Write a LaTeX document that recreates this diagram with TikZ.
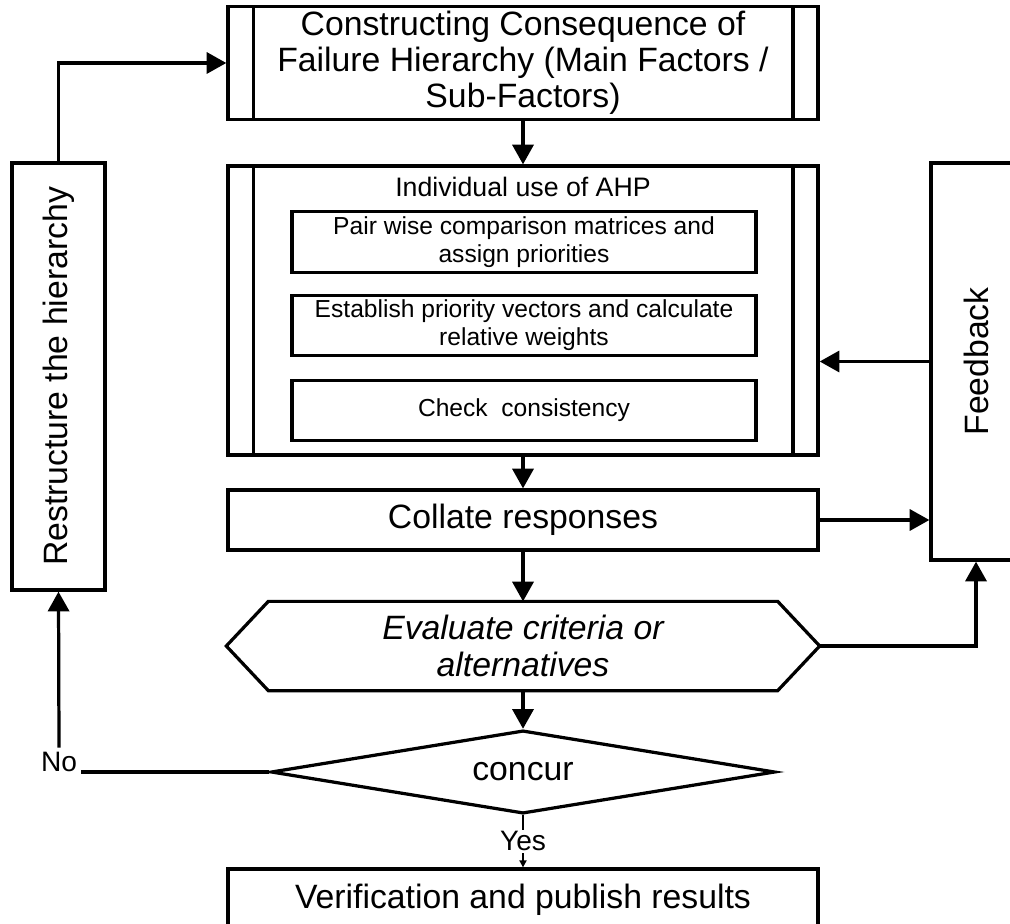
\documentclass[tikz,border=0pt]{standalone}
\usepackage{fontspec}
\setmainfont{Liberation Sans}
\usepackage{tikz}
\usetikzlibrary{shapes,decorations,arrows,calc,arrows.meta,fit,positioning}

\tikzset{
	box/.style={draw, line width=2.3pt, minimum width=14.75cm, align=center, font=\fontsize{24}{25.6}\selectfont},
	proc/.style={box, path picture={
		\draw[line width=2.3pt] ([xshift=0.63cm]path picture bounding box.north west) -- ([xshift=0.63cm]path picture bounding box.south west)
			([xshift=-0.63cm]path picture bounding box.north east) -- ([xshift=-0.63cm]path picture bounding box.south east);}},
	sub/.style={draw, line width=2.3pt, minimum width=11.6cm, minimum height=1.5cm, align=center, font=\fontsize{17.5}{20}\selectfont},
	link/.style={line width=2.3pt, -{Triangle[length=14pt,width=15pt]}},
}

\begin{document}
\begin{tikzpicture}[x=0.025cm, y=-0.025cm]
	\path[use as bounding box, clip] (0,0) rectangle (1010,924);
	\node[proc, minimum height=2.75cm] (1) at (523,63) {Constructing Consequence of\\Failure Hierarchy (Main Factors /\\Sub-Factors)};
	\node[proc, minimum height=7.225cm] (2) at (523,310.5) {};
	\node[font=\fontsize{19}{22}\selectfont] (3) at (523,187) {Individual use of AHP};
	\node[sub] (4) at (524,242) {Pair wise comparison matrices and\\assign priorities};
	\node[sub] (5) at (524,325.5) {Establish priority vectors and calculate\\relative weights};
	\node[sub] (6) at (524,410.5) {Check~ consistency};
	\node[box, minimum height=1.5cm] (7) at (523,520) {Collate responses};
	\node[box, draw=none, minimum height=2.15cm, font=\fontsize{24}{26}\selectfont\itshape] (8) at (523,646) {Evaluate criteria or\\alternatives};
	\node[box, shape=diamond, aspect=6, inner sep=0pt, minimum width=12.6cm, minimum height=2.08cm] (9) at (523,772) {concur};
	\node[box, minimum height=1.55cm] (11) at (523,900) {Verification and publish results};
	\node[box, minimum width=2.325cm, minimum height=10.675cm] (12) at (58.5,376.5) {\rotatebox{90}{Restructure the hierarchy}};
	\node[box, minimum width=2.25cm, minimum height=9.925cm] (13) at (976,361.5) {\rotatebox{90}{Feedback}};
	\node[font=\fontsize{20}{22}\selectfont, inner sep=3pt] (14) at (59,762) {No};
	
	\draw[line width=2.3pt] (8.west) -- ($(8.north west)+(42,0)$) -- ($(8.north east)+(-42,0)$) -- (8.east)
		-- ($(8.south east)+(-42,0)$) -- ($(8.south west)+(42,0)$) -- cycle;
	
	\path[link] (1) edge (2);
	\path[link] (2) edge (7);
	\path[link] (7) edge (8);
	\path[link] (8) edge (9);
	\draw[line width=1.8pt, -{Triangle[length=5pt,width=5pt]}] (9) -- node[fill=white, font=\fontsize{20}{22}\selectfont, inner sep=1pt] (10) {Yes} (11);
	\draw[link] (12.north) |- (1.west);
	\draw[line width=2.3pt] (9.west) -- (9.west -| 14.east);
	\draw[link] (14.north) -- (12.south);
	\draw[link] (7.east) -- (7.east -| 13.west);
	\draw[link] (13.west) -- (13.west -| 2.east);
	\draw[link] (8.east) -| (13.south);
\end{tikzpicture}
\end{document}
